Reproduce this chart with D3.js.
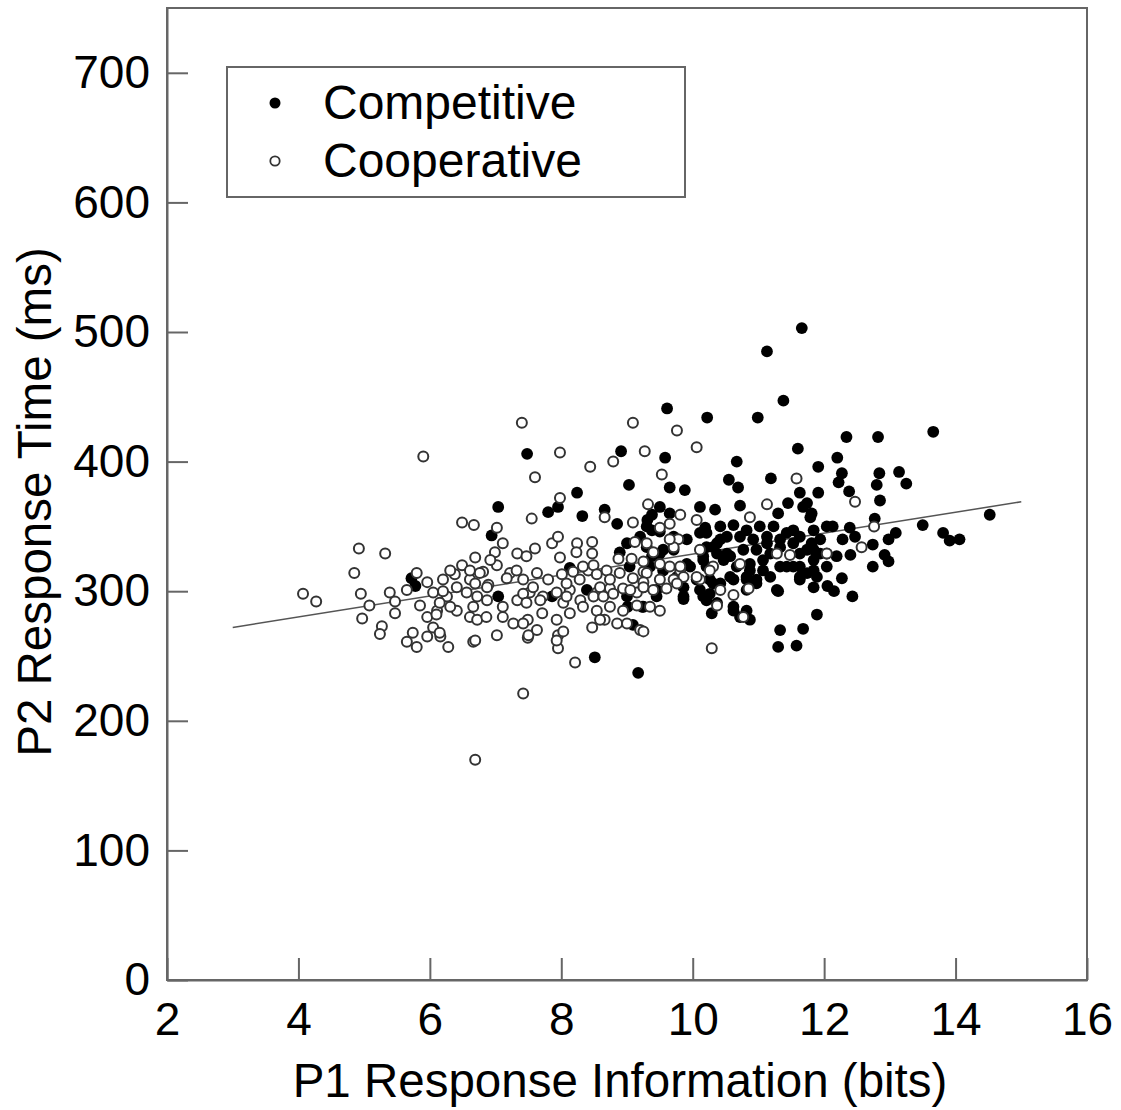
<!DOCTYPE html>
<html>
<head>
<meta charset="utf-8">
<script src="https://cdn.jsdelivr.net/npm/d3@7"></script>
<style>
  body { margin: 0; background: #fff; }
  text { font-family: "Liberation Sans", Arial, Helvetica, sans-serif; }
</style>
</head>
<body>
<div id="my_dataviz"></div>
<script>
// Competitive trials: P1 response information (bits) and P2 response time (ms)
var compX = [5.72, 5.78, 7.48, 8.91, 9.03, 8.24, 7.04, 7.80, 7.95, 8.32, 8.66, 8.85, 7.04, 7.86, 8.13, 8.39, 8.62, 8.51, 9.17, 9.09,
  9.00, 9.20, 9.31, 8.89, 9.04, 9.00, 9.23, 9.01,
  9.61, 10.22, 10.99, 11.38, 11.60, 9.58, 10.67, 10.55, 10.69, 11.19, 9.65, 9.88, 11.91, 10.11, 10.34, 10.72, 9.50, 9.38, 11.30, 11.45, 11.63, 11.81, 11.91, 11.13, 11.66,
  9.30, 9.50, 9.71, 9.30, 9.50, 9.71, 9.91, 10.11, 10.42, 10.62, 10.82, 11.02, 11.23, 11.43, 11.63, 11.84, 11.94,
  10.21, 10.42, 10.52, 10.72, 10.92, 11.13, 11.33, 11.53, 11.74, 11.94,
  9.35, 9.55, 9.76, 9.96, 10.21, 10.47, 10.67, 10.87, 11.07, 11.33, 11.53, 11.74, 11.89,
  9.25, 9.45, 9.86, 10.06, 10.31, 10.57, 10.82, 11.18, 11.28, 11.63, 11.84,
  9.25, 9.86, 10.16, 10.37, 10.62, 10.72, 10.87, 10.29, 10.97,
  11.33, 11.68, 11.30, 11.58, 11.89,
  12.34, 12.82, 13.66, 12.20, 12.27, 12.22, 12.84, 13.14, 13.25, 12.80, 12.38, 12.85, 11.74, 12.77, 14.52, 12.13, 12.39, 13.09,
  13.50, 13.81, 13.91, 14.06, 12.28, 12.47, 12.98, 12.74, 11.81, 12.19, 12.40, 12.92, 12.98, 12.74, 11.84, 12.27, 12.05, 12.15, 12.43,
  9.65, 9.38, 9.55, 9.38, 10.21, 10.31, 10.16, 9.91, 10.26, 10.11, 9.86, 10.21, 9.45, 6.94,
  11.68, 11.79, 10.19, 11.53, 12.04, 10.37, 10.52, 11.13, 11.33, 10.16, 10.37, 10.57, 10.77, 10.97, 11.18, 11.63, 11.84,
  12.04, 10.87, 11.07, 11.43, 11.63, 11.84, 12.04, 10.42, 10.62, 10.82, 11.63, 10.26, 10.82, 10.97, 11.30, 10.62, 10.82];
var compY = [310, 304, 406, 408, 382, 376, 365, 361, 365, 358, 363, 352, 296, 296, 318, 301, 301, 249, 237, 274,
  337, 342, 355, 330, 319, 296, 288, 288,
  441, 434, 434, 447, 410, 403, 400, 386, 380, 387, 380, 378, 396, 365, 363, 366, 365, 359, 360, 368, 376, 360, 376, 485, 503,
  350, 346, 342, 334, 329, 332, 340, 345, 350, 351, 347, 350, 350, 345, 342, 347, 340,
  334, 340, 329, 342, 340, 342, 334, 337, 332, 329,
  319, 316, 311, 319, 319, 324, 319, 321, 324, 319, 319, 314, 311,
  303, 301, 303, 309, 306, 311, 309, 311, 301, 311, 303,
  288, 296, 296, 291, 285, 280, 278, 283, 309,
  270, 271, 257, 258, 282,
  419, 419, 423, 403, 391, 384, 391, 392, 383, 382, 377, 370, 368, 356, 359, 350, 349, 345,
  351, 345, 339, 340, 340, 342, 340, 336, 337, 327, 328, 328, 323, 319, 324, 310, 304, 300, 296,
  360, 347, 332, 327, 345, 334, 324, 321, 309, 301, 294, 293, 296, 343,
  365, 357, 349, 347, 350, 337, 342, 337, 340, 327, 329, 327, 332, 332, 329, 329, 332,
  329, 316, 316, 319, 319, 316, 319, 306, 309, 311, 309, 298, 301, 306, 300, 288, 285];

// Cooperative trials
var coopX = [5.90, 6.49, 6.67, 4.92, 5.32, 4.85, 4.07, 4.27, 4.95, 5.08, 4.97, 5.27, 5.24, 5.39, 5.47, 5.65, 5.80, 5.96, 5.85, 5.47,
  6.05, 6.20, 6.11, 6.26, 5.96, 6.05, 5.74, 5.65, 5.80, 5.96, 6.16, 6.28, 6.38, 6.49, 6.69, 6.41, 6.56, 6.41, 6.61, 6.66, 6.69, 6.61,
  7.40, 9.09, 7.98, 9.27, 8.44, 8.79, 7.60, 7.98, 7.55, 7.02, 7.11, 6.99, 8.66, 9.09, 9.32, 7.86, 7.95, 7.60, 7.33, 8.24, 8.47, 8.47, 7.98,
  6.81, 7.02, 6.69, 6.89, 7.22, 7.42, 7.63, 7.80, 8.01, 8.18, 8.41, 8.69, 8.89, 9.09, 9.25,
  6.72, 6.87, 7.11, 7.33, 7.52, 7.72, 7.93, 8.13, 8.29, 8.03, 8.54, 8.74, 8.94, 9.15,
  6.72, 7.11, 7.02, 7.27, 7.49, 7.71, 7.93, 7.49, 7.95, 7.95, 8.47, 8.66, 8.85, 9.00, 9.20, 8.21, 7.42, 6.69,
  9.76, 10.06, 9.53, 11.58, 11.13, 10.87, 9.81, 10.06, 9.65, 9.78, 9.71, 9.30, 10.11, 11.28, 11.48, 10.72, 9.25, 9.30, 9.50, 9.81,
  9.65, 9.25, 10.11, 10.42, 10.62, 10.85, 10.37, 10.77, 9.50, 9.25, 10.29,
  12.47, 12.76, 12.57, 12.04,
  8.23, 8.33, 8.49, 8.08, 8.28, 8.54, 8.74, 8.59, 8.87, 9.12, 9.07, 9.40, 9.50, 9.81, 9.65, 9.50, 10.31, 10.06, 9.86,
  9.71, 9.05, 9.25, 9.40, 9.60, 9.76, 8.08, 8.49, 8.64, 8.79, 8.13, 8.33, 8.54, 8.74, 8.94, 9.15, 9.35, 8.59, 8.03,
  6.31, 6.20, 6.61, 6.76, 6.87, 6.66, 6.31, 6.15, 6.10, 6.15, 6.86, 6.92, 7.17, 7.47, 7.32, 7.57, 7.42, 7.47, 7.68,
  7.42, 7.50, 7.63, 7.93, 10.26];
var coopY = [404, 353, 351, 333, 329, 314, 298, 292, 298, 289, 279, 273, 267, 299, 292, 301, 314, 307, 289, 283,
  299, 309, 285, 296, 280, 272, 268, 261, 257, 265, 265, 257, 313, 320, 326, 303, 299, 285, 280, 261, 170, 309,
  430, 430, 407, 408, 396, 400, 388, 372, 356, 349, 337, 330, 357, 353, 367, 337, 342, 333, 329, 337, 338, 329, 326,
  315, 320, 306, 305, 314, 309, 314, 309, 313, 315, 316, 316, 314, 310, 315,
  296, 293, 288, 293, 299, 296, 299, 301, 293, 291, 299, 302, 302, 299,
  278, 280, 266, 275, 278, 283, 278, 264, 266, 256, 272, 278, 275, 275, 270, 245, 221, 262,
  424, 411, 390, 387, 367, 357, 359, 355, 352, 340, 334, 337, 332, 329, 328, 321, 323, 314, 309, 316,
  319, 307, 309, 301, 297, 302, 289, 280, 285, 269, 256,
  369, 350, 334, 329,
  330, 319, 320, 306, 309, 313, 309, 303, 325, 338, 325, 330, 321, 319, 340, 349, 319, 311, 311,
  309, 301, 303, 301, 302, 306, 296, 296, 296, 298, 283, 288, 285, 288, 285, 289, 288, 278, 269,
  316, 300, 316, 314, 303, 288, 288, 291, 282, 268, 280, 324, 310, 327, 316, 303, 298, 291, 293,
  275, 266, 270, 262, 316];

// fitted line end points
var fitX = [3, 15];
var fitY = [272, 369];

var xTicks = [2, 4, 6, 8, 10, 12, 14, 16];
var yTicks = [0, 100, 200, 300, 400, 500, 600, 700];
var seriesNames = ["Competitive", "Cooperative"];

var W = 1121, H = 1110;
var plotLeft = 167, plotRight = 1087, plotTop = 8, plotBottom = 980;

var svg = d3.select("#my_dataviz")
  .append("svg")
    .attr("width", W)
    .attr("height", H);

var x = d3.scaleLinear().domain([2, 16]).range([plotLeft, plotRight]);
var y = d3.scaleLinear().domain([0, 750]).range([plotBottom, plotTop]);

// frame
svg.append("rect")
  .attr("x", plotLeft).attr("y", plotTop)
  .attr("width", plotRight - plotLeft).attr("height", plotBottom - plotTop)
  .attr("fill", "none")
  .attr("stroke", "#666")
  .attr("stroke-width", 2);

var fs = 46;

var yAxis = svg.append("g")
  .attr("transform", "translate(" + plotLeft + ",0)")
  .call(d3.axisLeft(y).tickValues(yTicks).tickSizeInner(-21).tickSizeOuter(0).tickPadding(17));
var xAxis = svg.append("g")
  .attr("transform", "translate(0," + plotBottom + ")")
  .call(d3.axisBottom(x).tickValues(xTicks).tickSizeInner(-22).tickSizeOuter(0).tickPadding(22));

[xAxis, yAxis].forEach(function(g) {
  g.select(".domain").attr("stroke", "#666").attr("stroke-width", 2);
  g.selectAll(".tick line").attr("stroke", "#666").attr("stroke-width", 2);
  g.selectAll(".tick text").attr("fill", "#000").style("font-size", fs + "px")
    .style("font-family", "'Liberation Sans', Arial, sans-serif");
});

// fitted line
svg.append("line")
  .attr("x1", x(fitX[0])).attr("y1", y(fitY[0]))
  .attr("x2", x(fitX[1])).attr("y2", y(fitY[1]))
  .attr("stroke", "#555")
  .attr("stroke-width", 1.5);

var comp = compX.map(function(v, i) { return {x: v, y: compY[i]}; });
var coop = coopX.map(function(v, i) { return {x: v, y: coopY[i]}; });

svg.append("g").selectAll("circle")
  .data(comp)
  .enter().append("circle")
    .attr("cx", function(d) { return x(d.x); })
    .attr("cy", function(d) { return y(d.y); })
    .attr("r", 5.9)
    .attr("fill", "#000");

svg.append("g").selectAll("circle")
  .data(coop)
  .enter().append("circle")
    .attr("cx", function(d) { return x(d.x); })
    .attr("cy", function(d) { return y(d.y); })
    .attr("r", 5)
    .attr("fill", "#fff")
    .attr("stroke", "#333")
    .attr("stroke-width", 2);

// axis titles
svg.append("text")
  .attr("x", 620)
  .attr("y", 1097)
  .attr("text-anchor", "middle")
  .style("font-size", "47.5px")
  .text("P1 Response Information (bits)");

svg.append("text")
  .attr("transform", "translate(51,502) rotate(-90)")
  .attr("text-anchor", "middle")
  .style("font-size", "47.5px")
  .text("P2 Response Time (ms)");

// legend
var lg = svg.append("g");
lg.append("rect")
  .attr("x", 227).attr("y", 67)
  .attr("width", 458).attr("height", 130)
  .attr("fill", "#fff")
  .attr("stroke", "#666")
  .attr("stroke-width", 2);
lg.append("circle").attr("cx", 275).attr("cy", 103).attr("r", 5.5).attr("fill", "#000");
lg.append("circle").attr("cx", 275).attr("cy", 161).attr("r", 4.7)
  .attr("fill", "#fff").attr("stroke", "#333").attr("stroke-width", 1.8);
lg.selectAll("text.lab")
  .data(seriesNames)
  .enter().append("text")
    .attr("class", "lab")
    .attr("x", 323)
    .attr("y", function(d, i) { return 119 + i * 58; })
    .style("font-size", "48px")
    .text(function(d) { return d; });
</script>
</body>
</html>
